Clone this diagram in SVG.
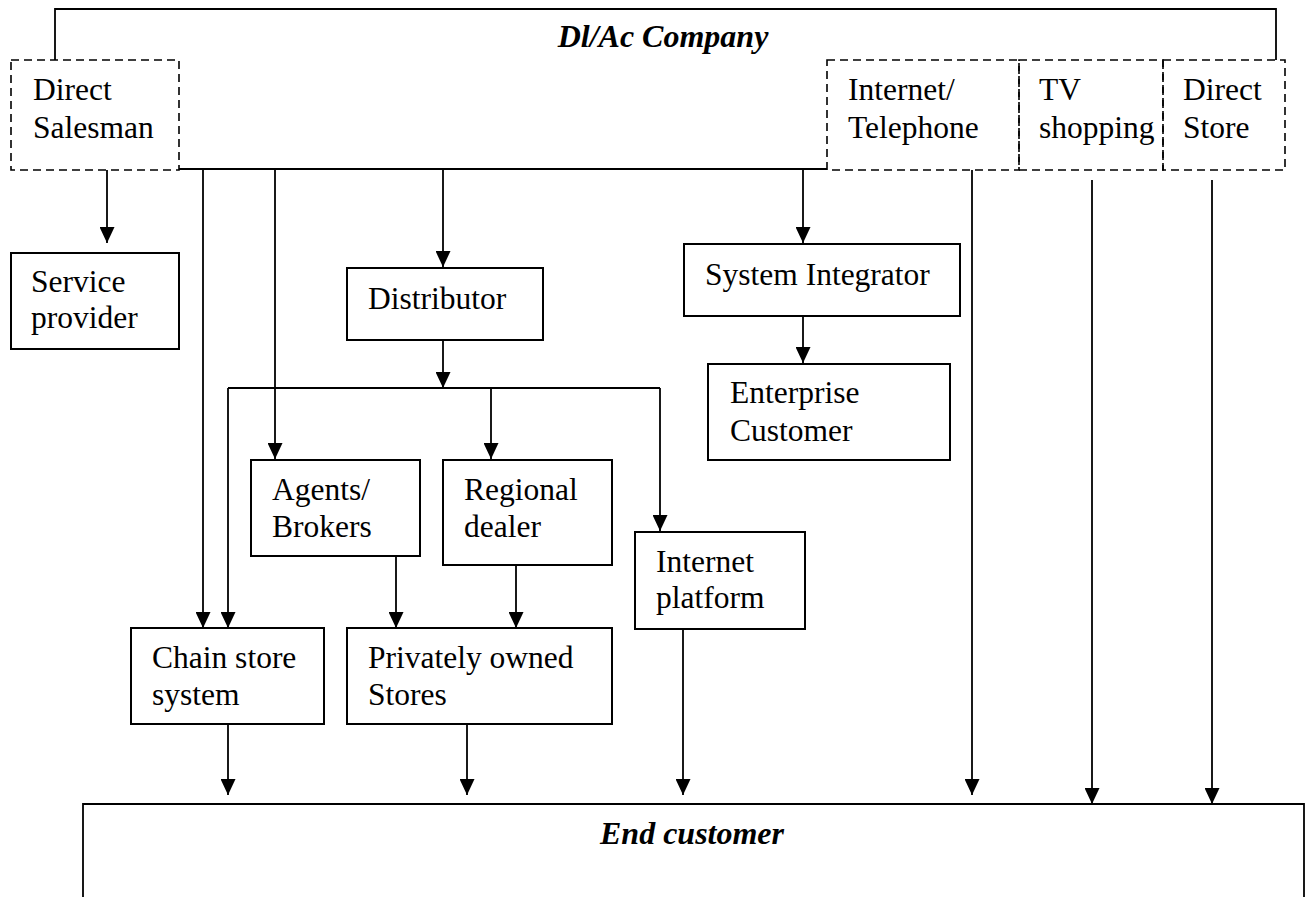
<svg xmlns="http://www.w3.org/2000/svg" width="1308" height="897" viewBox="0 0 1308 897">
  <style>
    .box { fill: #fff; stroke: #000; stroke-width: 2; }
    .dash { fill: none; stroke: #000; stroke-width: 1.6; stroke-dasharray: 8 5; }
    .line { fill: none; stroke: #000; stroke-width: 1.8; }
    .arrow { fill: none; stroke: #000; stroke-width: 1.8; marker-end: url(#head); }
    text { font-family: "Liberation Serif", "Times New Roman", serif; font-size: 31.5px; fill: #000; }
    .title { font-weight: bold; font-style: italic; font-size: 32px; text-anchor: middle; }
  </style>
  <defs>
    <!-- solid triangular arrowhead, tip at the path end -->
    <marker id="head" viewBox="0 0 16 15" refX="16" refY="7.5" markerWidth="16" markerHeight="15" markerUnits="userSpaceOnUse" orient="auto">
      <path d="M0,0 L16,7.5 L0,15 Z" fill="#000"/>
    </marker>
  </defs>

  <rect width="1308" height="897" fill="#fff"/>

  <!-- company frame -->
  <g id="company">
    <path class="line" d="M55,60 V9 H1276 V60"/>
    <text class="title" x="663" y="47">Dl/Ac Company</text>
  </g>

  <!-- end customer frame (open at the bottom) -->
  <g id="end-customer">
    <path class="line" d="M83,897 V804 H1304 V897" stroke-width="2"/>
    <text class="title" x="692" y="844">End customer</text>
  </g>

  <!-- connectors -->
  <g id="connectors">
    <path class="line" d="M179,169 H827"/>
    <path class="arrow" d="M107,170 V243"/>
    <path class="arrow" d="M203,169 V628"/>
    <path class="arrow" d="M275,169 V459"/>
    <path class="arrow" d="M443,169 V267"/>
    <path class="arrow" d="M803,169 V243"/>
    <path class="arrow" d="M443,340 V388"/>
    <path class="line" d="M228,388 H660"/>
    <path class="arrow" d="M228,388 V628"/>
    <path class="arrow" d="M491,388 V459"/>
    <path class="arrow" d="M660,388 V531"/>
    <path class="arrow" d="M803,316 V363"/>
    <path class="arrow" d="M396,556 V628"/>
    <path class="arrow" d="M516,556 V628"/>
    <path class="arrow" d="M228,724 V795"/>
    <path class="arrow" d="M467,724 V795"/>
    <path class="arrow" d="M683,629 V795"/>
    <path class="arrow" d="M972,170 V795"/>
    <path class="arrow" d="M1092,180 V804"/>
    <path class="arrow" d="M1212,180 V804"/>
  </g>

  <!-- direct channels (dashed) -->
  <g id="direct-salesman">
    <rect class="dash" x="11" y="60" width="168" height="110"/>
    <text x="33" y="100">Direct</text>
    <text x="33" y="138">Salesman</text>
  </g>
  <g id="internet-telephone">
    <rect class="dash" x="827" y="60" width="192" height="110"/>
    <text x="848" y="100">Internet/</text>
    <text x="848" y="138">Telephone</text>
  </g>
  <g id="tv-shopping">
    <rect class="dash" x="1019" y="60" width="144" height="110"/>
    <text x="1039" y="100">TV</text>
    <text x="1039" y="138">shopping</text>
  </g>
  <g id="direct-store">
    <rect class="dash" x="1163" y="60" width="122" height="110"/>
    <text x="1183" y="100">Direct</text>
    <text x="1183" y="138">Store</text>
  </g>

  <!-- intermediaries -->
  <g id="service-provider">
    <rect class="box" x="11" y="253" width="168" height="96"/>
    <text x="31" y="292">Service</text>
    <text x="31" y="328">provider</text>
  </g>
  <g id="distributor">
    <rect class="box" x="347" y="268" width="196" height="72"/>
    <text x="368" y="309">Distributor</text>
  </g>
  <g id="system-integrator">
    <rect class="box" x="684" y="244" width="276" height="72"/>
    <text x="705" y="285">System Integrator</text>
  </g>
  <g id="enterprise-customer">
    <rect class="box" x="708" y="364" width="242" height="96"/>
    <text x="730" y="403">Enterprise</text>
    <text x="730" y="441">Customer</text>
  </g>
  <g id="agents-brokers">
    <rect class="box" x="251" y="460" width="169" height="96"/>
    <text x="272" y="500">Agents/</text>
    <text x="272" y="537">Brokers</text>
  </g>
  <g id="regional-dealer">
    <rect class="box" x="443" y="460" width="169" height="105"/>
    <text x="464" y="500">Regional</text>
    <text x="464" y="537">dealer</text>
  </g>
  <g id="internet-platform">
    <rect class="box" x="635" y="532" width="170" height="97"/>
    <text x="656" y="572">Internet</text>
    <text x="656" y="608">platform</text>
  </g>
  <g id="chain-store">
    <rect class="box" x="131" y="628" width="193" height="96"/>
    <text x="152" y="668">Chain store</text>
    <text x="152" y="705">system</text>
  </g>
  <g id="private-stores">
    <rect class="box" x="347" y="628" width="265" height="96"/>
    <text x="368" y="668">Privately owned</text>
    <text x="368" y="705">Stores</text>
  </g>
</svg>
